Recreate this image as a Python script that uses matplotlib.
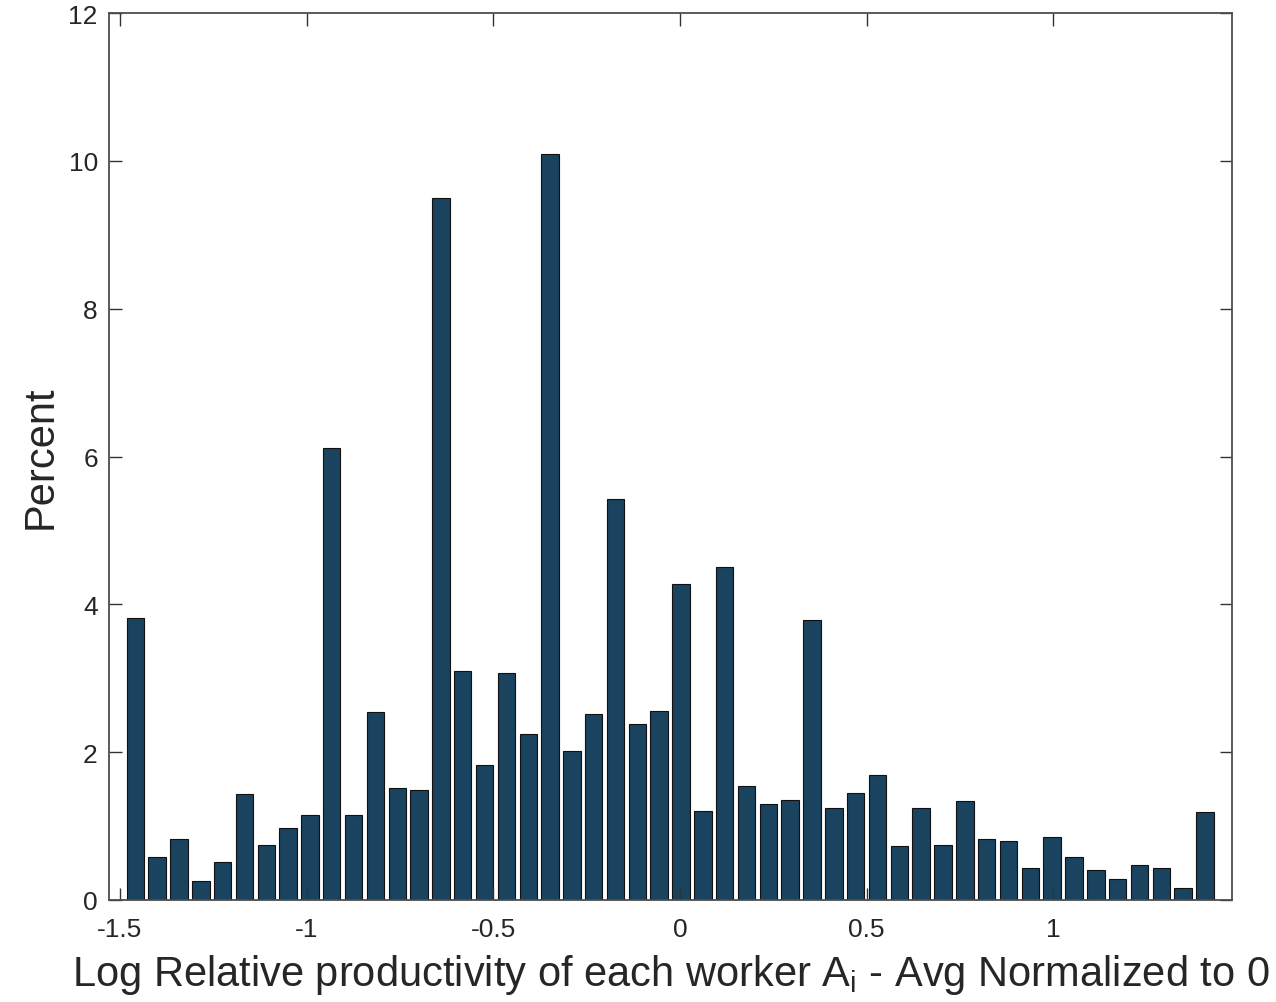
import numpy as np
import matplotlib
matplotlib.use('Agg')
import matplotlib.pyplot as plt

plt.rcParams['font.family'] = ['Liberation Sans', 'DejaVu Sans']
plt.rcParams['mathtext.fontset'] = 'custom'
plt.rcParams['mathtext.rm'] = 'Liberation Sans'

# histogram bins (centres of first and last bin, number of bins)
first_center = -1.459
last_center = 1.4065
n_bins = 50

# percent of workers in each bin
percent = [3.82, 0.58, 0.83, 0.26, 0.51, 1.43, 0.74, 0.98, 1.15, 6.12,
           1.15, 2.55, 1.52, 1.49, 9.50, 3.10, 1.82, 3.07, 2.24, 10.09,
           2.01, 2.51, 5.43, 2.38, 2.56, 4.28, 1.20, 4.51, 1.54, 1.30,
           1.35, 3.79, 1.24, 1.45, 1.69, 0.73, 1.24, 0.74, 1.34, 0.82,
           0.80, 0.43, 0.85, 0.58, 0.41, 0.29, 0.48, 0.43, 0.16, 1.19]

xticks = [-1.5, -1, -0.5, 0, 0.5, 1]
xticklabels = ['-1.5', '-1', '-0.5', '0', '0.5', '1']
yticks = [0, 2, 4, 6, 8, 10, 12]

centers = np.linspace(first_center, last_center, n_bins)
step = centers[1] - centers[0]

fig = plt.figure(figsize=(12.76, 10.03), dpi=100)
ax = fig.add_axes([0.0854, 0.1017, 0.8801, 0.8843])

ax.bar(centers, percent, width=0.8 * step, color='#19435f',
       edgecolor='#111111', linewidth=0.8)

ax.set_xlim(-1.5295, 1.4788)
ax.set_ylim(0, 12)
ax.set_xticks(xticks)
ax.set_xticklabels(xticklabels)
ax.set_yticks(yticks)

for s in ax.spines.values():
    s.set_color('#4d4d4d')
    s.set_linewidth(1.3)

ax.tick_params(direction='in', length=9, width=1.0, color='#333333',
               top=True, right=True, labelsize=19, labelcolor='#262626')
ax.tick_params(axis='x', pad=12)
ax.tick_params(axis='y', pad=8)

ax.set_xlabel(r'Log Relative productivity of each worker A$_\mathregular{i}$ - Avg Normalized to 0',
              fontsize=30, color='#262626', labelpad=8)
ax.set_ylabel('Percent', fontsize=30, color='#262626', labelpad=6)

fig.savefig('out.png', dpi=100)
